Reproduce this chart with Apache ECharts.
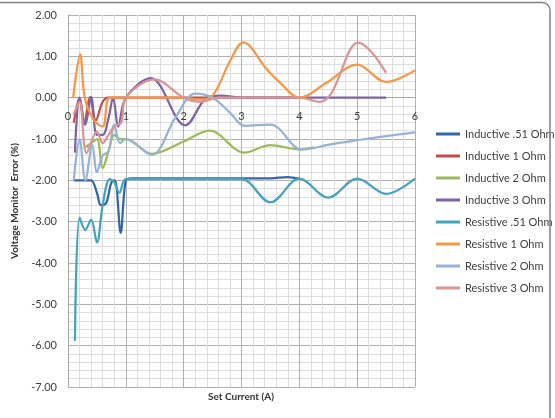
<!DOCTYPE html>
<html>
<head>
<meta charset="utf-8">
<script src="https://cdn.jsdelivr.net/npm/echarts@6/dist/echarts.min.js"></script>
<style>html,body{margin:0;padding:0;background:#fff}#c{width:555px;height:418px}</style>
</head>
<body>
<div id="c"></div>
<script>
const seriesNames = ['Inductive .51 Ohm','Inductive 1 Ohm','Inductive 2 Ohm','Inductive 3 Ohm','Resistive .51 Ohm','Resistive 1 Ohm','Resistive 2 Ohm','Resistive 3 Ohm'];
const seriesColors = ['#3465A8','#C0504D','#9BBB59','#8064A2','#45A3BE','#F79646','#95B3D7','#D99694'];

const indL51X = [0.1,0.2,0.3,0.4,0.5,0.57,0.66,0.75,0.81,0.91,1.0,1.1,1.5,2,2.5,3,3.5,3.8,4.0];
const indL51Y = [-2.0,-2.0,-2.0,-2.0,-2.3,-2.6,-2.55,-2.05,-2.0,-3.27,-2.0,-1.95,-1.95,-1.95,-1.95,-1.95,-1.95,-1.92,-1.96];

const indL1X = [0.1,0.2,0.28,0.38,0.48,0.6,0.7,1.0,2,3,4];
const indL1Y = [-0.6,0.0,-0.65,0.02,-0.55,-0.1,0,0,0,0,0];

const indL2X = [0.3,0.4,0.5,0.6,0.7,0.8,0.9,1.0,1.45,2.0,2.45,3.05,3.5,4.0,4.25];
const indL2Y = [-1.2,-1.1,-1.0,-1.7,-1.3,-0.9,-1.0,-1.0,-1.36,-1.06,-0.8,-1.33,-1.15,-1.25,-1.2];

const indL3X = [0.12,0.2,0.3,0.4,0.5,0.6,0.7,0.78,0.87,1.0,1.43,2.03,2.4,2.65,3.0,3.5,4,4.5,5,5.5];
const indL3Y = [-1.33,0.0,-0.65,0.02,-0.9,-0.9,-0.5,0.0,-0.7,0.0,0.47,-0.67,0.0,0.05,0.0,0,0,0,0,0];

const resL51X = [0.12,0.2,0.3,0.4,0.5,0.6,0.72,0.8,0.89,1.0,1.5,2,2.5,3,3.5,4,4.5,5,5.5,6];
const resL51Y = [-5.88,-2.9,-3.2,-2.95,-3.5,-2.6,-1.97,-2.05,-2.3,-1.97,-1.97,-1.97,-1.97,-1.97,-2.53,-1.96,-2.42,-1.96,-2.33,-1.96];

const resL1X = [0.09,0.21,0.29,0.45,0.6,0.72,1.0,1.5,2.0,2.25,2.5,2.8,3.03,3.44,3.67,4.0,4.47,5.0,5.5,6.0];
const resL1Y = [0,1.04,0,-0.55,-0.7,0,0,0,0,-0.05,0.05,0.88,1.34,0.68,0.36,0.0,0.36,0.8,0.38,0.66];

const resL2X = [0.1,0.2,0.3,0.42,0.5,0.6,0.7,0.8,0.9,1.0,1.45,1.85,2.2,2.5,2.8,3.05,3.5,4.05,4.5,5,5.5,6];
const resL2Y = [-2.0,-1.0,-2.0,-1.15,-1.8,-1.4,-1.3,-0.65,-1.1,-1.0,-1.38,-0.5,0.1,0.0,-0.36,-0.68,-0.65,-1.26,-1.14,-1.03,-0.93,-0.84];

const resL3X = [0.1,0.2,0.32,0.5,0.6,0.7,0.8,0.92,1.0,1.5,2.0,2.3,2.6,3,3.5,4.0,4.35,4.55,5.02,5.25,5.5];
const resL3Y = [-0.4,-0.1,-1.34,-0.82,-1.1,-0.9,-0.7,-0.6,0,0.44,0,-0.1,0,0,0,0,-0.1,0.1,1.33,1.1,0.6];

const yTicks = [-7,-6,-5,-4,-3,-2,-1,0,1,2];

const allX = [indL51X,indL1X,indL2X,indL3X,resL51X,resL1X,resL2X,resL3X];
const allY = [indL51Y,indL1Y,indL2Y,indL3Y,resL51Y,resL1Y,resL2Y,resL3Y];

const FONT = 'Lato, "Liberation Sans", sans-serif';
const GRID_TOP = 15, GRID_BOTTOM = 31, CH = 418;
const plotH = CH - GRID_TOP - GRID_BOTTOM;
const zeroOffset = -plotH * (0 - yTicks[0]) / (yTicks[yTicks.length - 1] - yTicks[0]);

const chart = echarts.init(document.getElementById('c'), null, {renderer:'canvas'});
chart.setOption({
  animation: false,
  backgroundColor: '#fff',
  grid: {left: 68, right: 140, top: GRID_TOP, bottom: GRID_BOTTOM, show: false},
  legend: {
    orient: 'vertical', left: 436, top: 127, itemGap: 8, padding: 0,
    itemWidth: 24, itemHeight: 3, icon: 'rect',
    textStyle: {fontFamily: FONT, fontSize: 11, color: '#404040', lineHeight: 14},
    data: seriesNames
  },
  xAxis: {
    type: 'value', min: 0, max: 6, interval: 1, position: 'bottom', offset: zeroOffset,
    axisLine: {onZero: false, lineStyle: {color: '#a6a6a6', width: 1}},
    axisTick: {show: false},
    axisLabel: {margin: 13, fontFamily: FONT, fontSize: 11, color: '#404040'},
    splitLine: {show: true, lineStyle: {color: '#b0b0b0', width: 1}},
    minorTick: {show: false, splitNumber: 5},
    minorSplitLine: {show: true, lineStyle: {color: '#dedede', width: 1}}
  },
  yAxis: {
    type: 'value', min: -7, max: 2, interval: 1,
    name: 'Voltage Monitor  Error (%)', nameLocation: 'middle', nameGap: 46, nameRotate: 90,
    nameTextStyle: {fontFamily: FONT, fontSize: 10, fontWeight: 'bold', color: '#333'},
    axisLine: {show: true, lineStyle: {color: '#a6a6a6', width: 1}},
    axisTick: {show: false},
    axisLabel: {margin: 11, fontFamily: FONT, fontSize: 11, color: '#404040',
      formatter: v => yTicks.indexOf(v) >= 0 ? v.toFixed(2) : ''},
    splitLine: {show: true, lineStyle: {color: '#b0b0b0', width: 1}},
    minorTick: {show: false, splitNumber: 5},
    minorSplitLine: {show: true, lineStyle: {color: '#dedede', width: 1}}
  },
  graphic: [
    {type: 'rect', shape: {x: -10, y: 2.5, width: 560, height: 440, r: 8},
     style: {fill: 'none', stroke: '#808080', lineWidth: 1.5}, silent: true, z: 100},
    {type: 'line', shape: {x1: 68, y1: 387.5, x2: 415, y2: 387.5}, style: {stroke: '#a6a6a6', lineWidth: 1}, silent: true},
    {type: 'text', x: 241, y: 392, style: {text: 'Set Current (A)', font: 'bold 10px ' + FONT, fill: '#333', textAlign: 'center'}}
  ],
  series: seriesNames.map((n, i) => ({
    name: n, type: 'line', smooth: 0.35, showSymbol: false, symbol: 'none',
    color: seriesColors[i],
    lineStyle: {width: 2.25, color: seriesColors[i]},
    data: allX[i].map((x, k) => [x, allY[i][k]])
  }))
});
</script>
</body>
</html>
